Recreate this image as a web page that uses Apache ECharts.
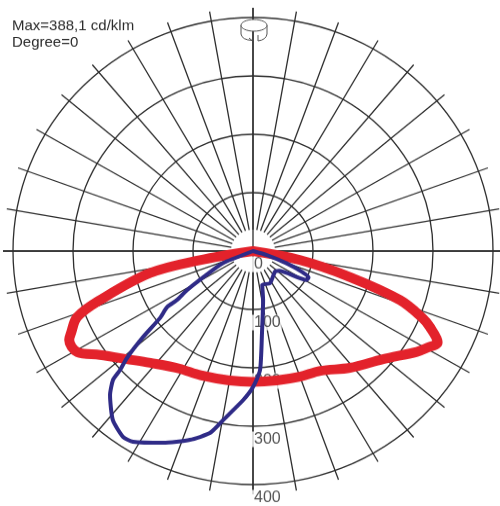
<!DOCTYPE html>
<html>
<head>
<meta charset="UTF-8">
<title>Polar intensity diagram</title>
<script src="https://cdn.jsdelivr.net/npm/echarts@6/dist/echarts.min.js"></script>
<style>
html, body { margin:0; padding:0; background:#fff; overflow:hidden; }
/* the source picture is a bit squashed vertically */
#main { width:500px; height:520px; transform:scaleY(0.973); transform-origin:0 0; }
</style>
</head>
<body>
<div id="main"></div>
<script>
// cd/klm, angle 0 = nadir, negative = left half
var redAngles = [-80, -80, -77.6, -71.8, -68.9, -65.2, -63.6, -59.4, -55.1, -48.6, -41.8, -31.5, -22.3, -10, 0, 10, 19.9, 28.7, 38.9, 49.5, 57.7, 60.2, 63.1, 66.2, 67.9, 71.1, 74.6, 78.9, 80];
var redValues = [0, 90, 176, 268, 314, 334, 342, 340, 311, 280, 257, 236, 230, 225, 224, 225, 229, 234, 257, 285, 323, 334, 345, 322, 305, 259, 168, 80, 0];

var blueAngles = [-69, -68, -65.5, -58.7, -56.5, -56.2, -53.5, -51.2, -48.9, -47.4, -46.6, -44, -38.9, -34.2, -31.5, -24.5, -18, -13, -9.8, -3.7, 0, 3.3, 6.1, 11.3, 14.9, 27.1, 46, 52.1, 61, 64, 66.4, 69.4, 73.4, 80];
var blueValues = [0, 50, 66, 129, 152, 172, 193, 235, 279, 301, 321, 343, 372, 385, 383, 361, 340, 320, 294, 256, 233, 204, 141, 86, 60, 62, 51, 55, 102, 103, 89, 60, 24, 0];

var ringTicks = [0, 100, 200, 300, 400];
var infoLines = ['Max=388,1 cd/klm', 'Degree=0'];

var gridColor = '#2e2e2e';
var ctr = [253, 258];

function toPolar(values, angles) {
	return values.map(function (v, i) { return [v, angles[i]]; });
}

function angleAx(idx, step, showSplit) {
	return {
		polarIndex: idx, type: 'value', min: -180, max: 180, interval: step,
		startAngle: 90, clockwise: false,
		axisLine: { show: false }, axisTick: { show: false }, axisLabel: { show: false },
		splitLine: { show: showSplit, lineStyle: { color: gridColor, width: 1.3 } }
	};
}

var myChart = echarts.init(document.getElementById('main'));

myChart.setOption({
	animation: false,
	backgroundColor: '#fff',
	polar: [
		{ center: ctr, radius: [0, 250] },
		{ center: ctr, radius: [22, 250] },
		{ center: ctr, radius: [0, 240] }
	],
	angleAxis: [
		angleAx(0, 90, true),
		angleAx(1, 10, true),
		angleAx(2, 90, false)
	],
	radiusAxis: [
		{ polarIndex: 0, type: 'value', show: false },
		{ polarIndex: 1, type: 'value', show: false },
		{
			polarIndex: 2, type: 'value', min: 0, max: 400, interval: 100,
			axisLine: { show: false }, axisTick: { show: false }, axisLabel: { show: false },
			splitLine: { show: true, lineStyle: { color: gridColor, width: 1.3 } }
		}
	],
	graphic: [
		{
			type: 'text', left: 12, top: 18, z: 10,
			style: {
				text: infoLines.join('\n'),
				font: '15px "Liberation Sans", Arial, sans-serif',
				lineHeight: 17,
				fill: '#2b2b2b'
			}
		},
		// little rotation symbol at the top
		{ type: 'line', z: 10, shape: { x1: 241, y1: 26, x2: 241, y2: 35 }, style: { stroke: '#555', lineWidth: 1 } },
		{ type: 'line', z: 10, shape: { x1: 267, y1: 26, x2: 267, y2: 35 }, style: { stroke: '#555', lineWidth: 1 } },
		{ type: 'bezierCurve', z: 10, shape: { x1: 241, y1: 35, cpx1: 242, cpy1: 41, x2: 252, y2: 41.5 }, style: { stroke: '#555', fill: 'none', lineWidth: 1 } },
		{ type: 'line', z: 10, shape: { x1: 249, y1: 39, x2: 252, y2: 41.5 }, style: { stroke: '#555', lineWidth: 1 } },
		{ type: 'line', z: 10, shape: { x1: 258, y1: 36, x2: 258, y2: 42 }, style: { stroke: '#555', lineWidth: 1 } },
		{ type: 'bezierCurve', z: 10, shape: { x1: 258, y1: 42, cpx1: 266, cpy1: 41, x2: 267, y2: 35 }, style: { stroke: '#555', fill: 'none', lineWidth: 1 } },
		{ type: 'ellipse', z: 11, shape: { cx: 254, cy: 26, rx: 13, ry: 6 }, style: { fill: '#fff', stroke: '#555', lineWidth: 1 } }
	],
	series: [
		{
			type: 'scatter',
			coordinateSystem: 'polar',
			polarIndex: 2,
			silent: true,
			z: 2,
			symbolSize: 1,
			itemStyle: { color: 'rgba(0,0,0,0)' },
			data: ringTicks.map(function (v) { return [v, 0]; }),
			label: {
				show: true,
				position: 'bottom',
				distance: 5,
				align: 'left',
				offset: [-2, 0],
				padding: [0, 1, 0, 3],
				backgroundColor: '#fff',
				color: '#2b2b2b',
				fontSize: 16,
				fontFamily: '"Liberation Sans", Arial, sans-serif',
				formatter: function (p) { return p.value[0]; }
			}
		},
		{
			type: 'line',
			coordinateSystem: 'polar',
			polarIndex: 2,
			z: 3,
			showSymbol: false,
			smooth: 0.35,
			data: toPolar(redValues, redAngles),
			lineStyle: { color: '#e3222b', width: 10, cap: 'round', join: 'round' }
		},
		{
			type: 'line',
			coordinateSystem: 'polar',
			polarIndex: 2,
			z: 4,
			showSymbol: false,
			smooth: 0.2,
			data: toPolar(blueValues, blueAngles),
			lineStyle: { color: '#2f2b87', width: 4, cap: 'round', join: 'round' }
		}
	]
});
</script>
</body>
</html>
